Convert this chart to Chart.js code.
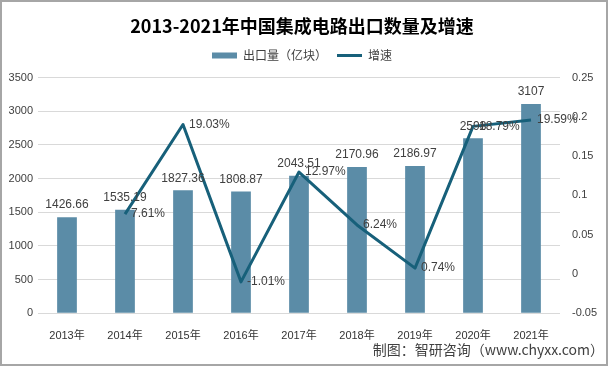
<!DOCTYPE html>
<html>
<head>
<meta charset="utf-8">
<script src="https://cdn.jsdelivr.net/npm/chart.js@4.4.1/dist/chart.umd.min.js"></script>
<style>
  html, body { margin:0; padding:0; background:#fff; }
  #wrap { width:608px; height:366px; position:relative; }
</style>
</head>
<body>
<div id="wrap"><canvas id="exportChart" width="608" height="366"></canvas></div>
<script>
// 数据
const years = ['2013年','2014年','2015年','2016年','2017年','2018年','2019年','2020年','2021年'];
const exportVol = [1426.66, 1535.19, 1827.36, 1808.87, 2043.51, 2170.96, 2186.97, 2598, 3107];
const growthPct = [null, 7.61, 19.03, -1.01, 12.97, 6.24, 0.74, 18.79, 19.59];
const leftTicks = [0, 3500, 500];       // min, max, step
const rightTicks = [-0.05, 0.25, 0.05]; // min, max, step

const FONT = "'Liberation Sans', 'Noto Sans CJK SC', sans-serif";
const CJK = "'Noto Sans CJK SC', sans-serif";
const BAR_COLOR = '#5b8ca7';
const LINE_COLOR = '#17607a';

/* ===== 数据标签 + 边框 ===== */
const labelsPlugin = {
  id: 'valueLabels',
  afterDatasetsDraw(chart){
    const ctx = chart.ctx;
    ctx.save();
    ctx.font = '12px ' + FONT;
    ctx.fillStyle = '#404040';
    // 柱
    const barMeta = chart.getDatasetMeta(0);
    ctx.textAlign = 'center'; ctx.textBaseline = 'bottom';
    barMeta.data.forEach((el, i) => {
      ctx.fillText(String(exportVol[i]), el.x, el.y - 6);
    });
    // 线
    const lineMeta = chart.getDatasetMeta(1);
    ctx.textAlign = 'left'; ctx.textBaseline = 'middle';
    lineMeta.data.forEach((el, i) => {
      if (growthPct[i] == null) return;
      ctx.fillText(growthPct[i].toFixed(2) + '%', el.x + 6, el.y);
    });
    ctx.restore();
  },
  beforeDraw(chart){
    const ctx = chart.ctx;
    ctx.save();
    ctx.fillStyle = '#fff';
    ctx.fillRect(0, 0, chart.width, chart.height);
    ctx.strokeStyle = '#a6a6a6';
    ctx.lineWidth = 2;
    ctx.strokeRect(1, 1, chart.width - 2, chart.height - 2);
    ctx.restore();
  }
};

// 图例和绘图区之间留一点空
const spacerPlugin = {
  id: 'legendSpacer',
  beforeInit(chart){
    Chart.layouts.addBox(chart, {
      position: 'top', weight: 500, fullSize: true, width: 0, height: 0,
      options: {},
      isHorizontal(){ return true; },
      update(maxWidth){ this.width = maxWidth; this.height = 6; },
      draw(){}
    });
  }
};

new Chart(document.getElementById('exportChart').getContext('2d'), {
  type: 'bar',
  data: {
    labels: years,
    datasets: [
      {label:'出口量（亿块）', data: exportVol, backgroundColor: BAR_COLOR, borderWidth: 0,
        yAxisID: 'y', order: 2, barPercentage: 0.34, categoryPercentage: 1, pointStyle: 'rect'},
      {label:'增速', type: 'line', data: growthPct.map(v => v == null ? null : v / 100),
        borderColor: LINE_COLOR, backgroundColor: LINE_COLOR, borderWidth: 3, tension: 0,
        pointRadius: 0, pointStyle: 'line', yAxisID: 'y1', order: 1, borderJoinStyle: 'round'}
    ]
  },
  options: {
    responsive: false, animation: false,
    layout: {padding: {left: 0, right: 4, top: 0, bottom: 0}},
    plugins: {
      title: {display: true, text: '2013-2021年中国集成电路出口数量及增速', color: '#000',
        font: {size: 18, weight: 'bold', family: CJK}, padding: {top: 15, bottom: 3}},
      subtitle: {display: true, position: 'bottom', align: 'end', text: '制图：智研咨询（www.chyxx.com）',
        color: '#404040', font: {size: 14, family: CJK}, padding: {top: 0, bottom: 8}},
      legend: {position: 'top', labels: {usePointStyle: true, pointStyleWidth: 25, boxWidth: 25, boxHeight: 6,
        padding: 10, color: '#404040', font: {size: 12, family: CJK},
        sort: (a, b) => a.datasetIndex - b.datasetIndex}},
      tooltip: {enabled: false}
    },
    scales: {
      x: {grid: {display: false}, border: {display: false},
        ticks: {color: '#333', font: {size: 11, family: FONT}, padding: 8, maxRotation: 0},
        afterFit: a => { a.height = 28; }},
      y: {position: 'left', min: leftTicks[0], max: leftTicks[1],
        ticks: {stepSize: leftTicks[2], color: '#404040', font: {size: 11, family: FONT}, padding: 5,
          callback: v => String(v)},
        grid: {color: '#d9d9d9', drawTicks: false}, border: {display: false},
        afterFit: a => { a.width = 38; }},
      y1: {position: 'right', min: rightTicks[0], max: rightTicks[1],
        ticks: {stepSize: rightTicks[2], color: '#404040', font: {size: 11, family: FONT}, padding: 12,
          callback: v => String(+v.toFixed(2))},
        grid: {display: false, drawTicks: false}, border: {display: false},
        afterFit: a => { a.width = 44; }}
    }
  },
  plugins: [labelsPlugin, spacerPlugin]
});
</script>
</body>
</html>
